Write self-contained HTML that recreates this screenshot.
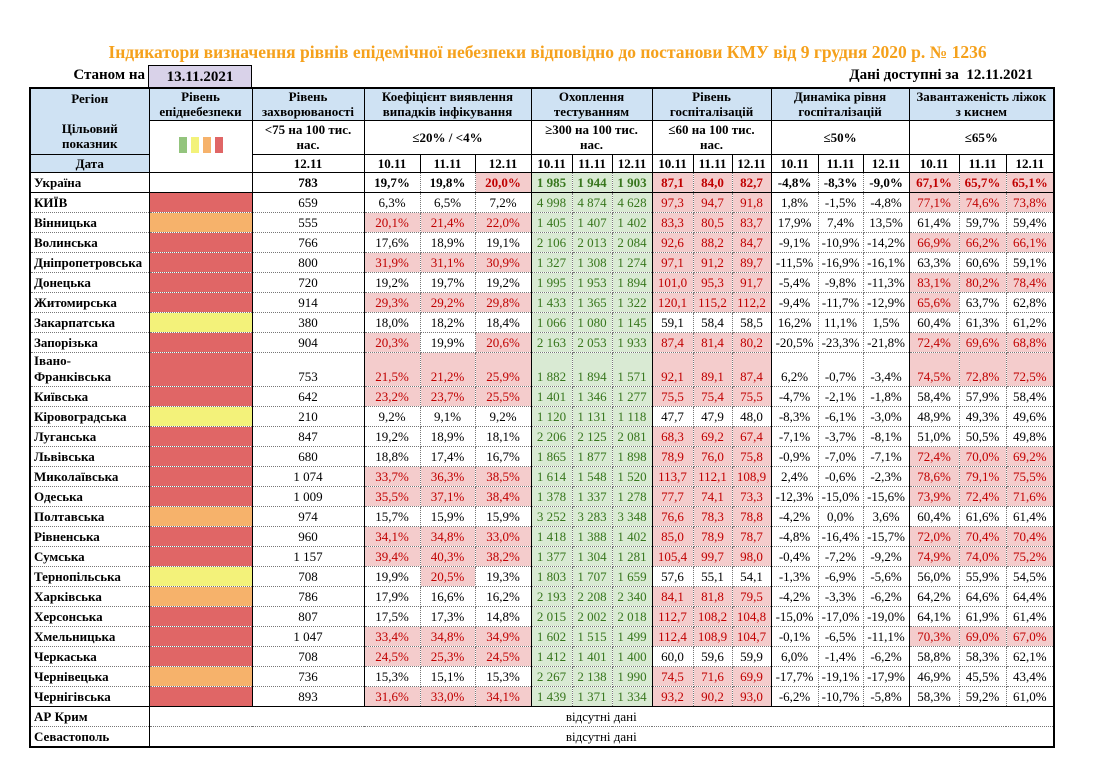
<!DOCTYPE html>
<html><head><meta charset="utf-8">
<style>
*{margin:0;padding:0;box-sizing:border-box}
body{width:1095px;height:765px;background:#fff;font-family:"Liberation Serif","DejaVu Serif",serif;position:relative;overflow:hidden;color:#000}
.title{position:absolute;left:0;width:1095px;top:42px;text-align:center;color:#f5a11c;font-weight:bold;font-size:17.5px}
.st{position:absolute;left:40px;width:105px;top:67px;text-align:right;font-weight:bold;font-size:15px}
.db{position:absolute;left:148px;top:65px;width:104px;height:23px;background:#d9d2e9;border:1px solid #000;border-bottom:none;text-align:center;font-weight:bold;font-size:15px;line-height:22px}
.av{position:absolute;right:62px;top:67px;font-weight:bold;font-size:15px;white-space:pre}
table{position:absolute;left:29px;top:87px;border-collapse:collapse;table-layout:fixed;width:1024px;border:2px solid #000}
td{font-size:13px;text-align:center;vertical-align:bottom;border:1px dotted #777;white-space:nowrap;overflow:hidden;padding:0 0 1px 0;line-height:16px}
tr.h td{border:1px solid #000;font-weight:bold;font-size:13px;vertical-align:middle;line-height:15px}
.bl{background:#cfe2f3}
tr.r td:nth-child(2),tr.r td:nth-child(3),tr.r td:nth-child(4),tr.r td:nth-child(7),tr.r td:nth-child(10),tr.r td:nth-child(13),tr.r td:nth-child(16){border-left:1px solid #000}
tr.r td:first-child{text-align:left;font-weight:bold;padding-left:3px}
tr.r{height:20px}
tr.u td{font-weight:bold;border-bottom:1px solid #000}
tr.last td{border-bottom:1px solid #000}
.p{background:#f4cccc;color:#c00000}
.g{background:#d9ead3;color:#38761d}
.R{background:#e06666}.O{background:#f6b26b}.Y{background:#f3f27a}
.sq{display:inline-block;width:8px;height:16px;margin:0 2px}
</style></head><body>
<div class="title">Індикатори визначення рівнів епідемічної небезпеки відповідно до постанови КМУ від 9 грудня 2020 р. № 1236</div>
<div class="st">Станом на</div>
<div class="db">13.11.2021</div>
<div class="av">Дані доступні за  12.11.2021</div>
<table>
<colgroup><col style="width:119px"><col style="width:103px"><col style="width:112px"><col style="width:56px"><col style="width:55px"><col style="width:56px"><col style="width:41px"><col style="width:40px"><col style="width:40px"><col style="width:41px"><col style="width:39px"><col style="width:39px"><col style="width:47px"><col style="width:45px"><col style="width:46px"><col style="width:50px"><col style="width:47px"><col style="width:48px"></colgroup>
<tr class="h" style="height:32px"><td class="bl" rowspan="2" style="border-bottom:1px solid #000">Регіон<br><br>Цільовий<br>показник</td><td class="bl">Рівень<br>епіднебезпеки</td><td class="bl">Рівень<br>захворюваності</td><td class="bl" colspan="3">Коефіцієнт виявлення<br>випадків інфікування</td><td class="bl" colspan="3">Охоплення<br>тестуванням</td><td class="bl" colspan="3">Рівень<br>госпіталізацій</td><td class="bl" colspan="3">Динаміка рівня<br>госпіталізацій</td><td class="bl" colspan="3">Завантаженість ліжок<br>з киснем</td></tr>
<tr class="h" style="height:34px"><td rowspan="2"><span class="sq" style="background:#93c47d"></span><span class="sq" style="background:#f3f27a"></span><span class="sq" style="background:#f6b26b"></span><span class="sq" style="background:#e06666"></span></td><td>&lt;75 на 100 тис.<br>нас.</td><td colspan="3">≤20% / &lt;4%</td><td colspan="3">≥300 на 100 тис.<br>нас.</td><td colspan="3">≤60 на 100 тис.<br>нас.</td><td colspan="3">≤50%</td><td colspan="3">≤65%</td></tr>
<tr class="h" style="height:18px"><td class="bl">Дата</td><td>12.11</td><td>10.11</td><td>11.11</td><td>12.11</td><td>10.11</td><td>11.11</td><td>12.11</td><td>10.11</td><td>11.11</td><td>12.11</td><td>10.11</td><td>11.11</td><td>12.11</td><td>10.11</td><td>11.11</td><td>12.11</td></tr>
<tr class="r u"><td>Україна</td><td></td><td>783</td><td>19,7%</td><td>19,8%</td><td class="p">20,0%</td><td class="g">1 985</td><td class="g">1 944</td><td class="g">1 903</td><td class="p">87,1</td><td class="p">84,0</td><td class="p">82,7</td><td>-4,8%</td><td>-8,3%</td><td>-9,0%</td><td class="p">67,1%</td><td class="p">65,7%</td><td class="p">65,1%</td></tr>
<tr class="r"><td>КИЇВ</td><td class="R"></td><td>659</td><td>6,3%</td><td>6,5%</td><td>7,2%</td><td class="g">4 998</td><td class="g">4 874</td><td class="g">4 628</td><td class="p">97,3</td><td class="p">94,7</td><td class="p">91,8</td><td>1,8%</td><td>-1,5%</td><td>-4,8%</td><td class="p">77,1%</td><td class="p">74,6%</td><td class="p">73,8%</td></tr>
<tr class="r"><td>Вінницька</td><td class="O"></td><td>555</td><td class="p">20,1%</td><td class="p">21,4%</td><td class="p">22,0%</td><td class="g">1 405</td><td class="g">1 407</td><td class="g">1 402</td><td class="p">83,3</td><td class="p">80,5</td><td class="p">83,7</td><td>17,9%</td><td>7,4%</td><td>13,5%</td><td>61,4%</td><td>59,7%</td><td>59,4%</td></tr>
<tr class="r"><td>Волинська</td><td class="R"></td><td>766</td><td>17,6%</td><td>18,9%</td><td>19,1%</td><td class="g">2 106</td><td class="g">2 013</td><td class="g">2 084</td><td class="p">92,6</td><td class="p">88,2</td><td class="p">84,7</td><td>-9,1%</td><td>-10,9%</td><td>-14,2%</td><td class="p">66,9%</td><td class="p">66,2%</td><td class="p">66,1%</td></tr>
<tr class="r"><td>Дніпропетровська</td><td class="R"></td><td>800</td><td class="p">31,9%</td><td class="p">31,1%</td><td class="p">30,9%</td><td class="g">1 327</td><td class="g">1 308</td><td class="g">1 274</td><td class="p">97,1</td><td class="p">91,2</td><td class="p">89,7</td><td>-11,5%</td><td>-16,9%</td><td>-16,1%</td><td>63,3%</td><td>60,6%</td><td>59,1%</td></tr>
<tr class="r"><td>Донецька</td><td class="R"></td><td>720</td><td>19,2%</td><td>19,7%</td><td>19,2%</td><td class="g">1 995</td><td class="g">1 953</td><td class="g">1 894</td><td class="p">101,0</td><td class="p">95,3</td><td class="p">91,7</td><td>-5,4%</td><td>-9,8%</td><td>-11,3%</td><td class="p">83,1%</td><td class="p">80,2%</td><td class="p">78,4%</td></tr>
<tr class="r"><td>Житомирська</td><td class="R"></td><td>914</td><td class="p">29,3%</td><td class="p">29,2%</td><td class="p">29,8%</td><td class="g">1 433</td><td class="g">1 365</td><td class="g">1 322</td><td class="p">120,1</td><td class="p">115,2</td><td class="p">112,2</td><td>-9,4%</td><td>-11,7%</td><td>-12,9%</td><td class="p">65,6%</td><td>63,7%</td><td>62,8%</td></tr>
<tr class="r"><td>Закарпатська</td><td class="Y"></td><td>380</td><td>18,0%</td><td>18,2%</td><td>18,4%</td><td class="g">1 066</td><td class="g">1 080</td><td class="g">1 145</td><td>59,1</td><td>58,4</td><td>58,5</td><td>16,2%</td><td>11,1%</td><td>1,5%</td><td>60,4%</td><td>61,3%</td><td>61,2%</td></tr>
<tr class="r"><td>Запорізька</td><td class="R"></td><td>904</td><td class="p">20,3%</td><td>19,9%</td><td class="p">20,6%</td><td class="g">2 163</td><td class="g">2 053</td><td class="g">1 933</td><td class="p">87,4</td><td class="p">81,4</td><td class="p">80,2</td><td>-20,5%</td><td>-23,3%</td><td>-21,8%</td><td class="p">72,4%</td><td class="p">69,6%</td><td class="p">68,8%</td></tr>
<tr class="r" style="height:31px"><td>Івано-<br>Франківська</td><td class="R"></td><td>753</td><td class="p">21,5%</td><td class="p">21,2%</td><td class="p">25,9%</td><td class="g">1 882</td><td class="g">1 894</td><td class="g">1 571</td><td class="p">92,1</td><td class="p">89,1</td><td class="p">87,4</td><td>6,2%</td><td>-0,7%</td><td>-3,4%</td><td class="p">74,5%</td><td class="p">72,8%</td><td class="p">72,5%</td></tr>
<tr class="r"><td>Київська</td><td class="R"></td><td>642</td><td class="p">23,2%</td><td class="p">23,7%</td><td class="p">25,5%</td><td class="g">1 401</td><td class="g">1 346</td><td class="g">1 277</td><td class="p">75,5</td><td class="p">75,4</td><td class="p">75,5</td><td>-4,7%</td><td>-2,1%</td><td>-1,8%</td><td>58,4%</td><td>57,9%</td><td>58,4%</td></tr>
<tr class="r"><td>Кіровоградська</td><td class="Y"></td><td>210</td><td>9,2%</td><td>9,1%</td><td>9,2%</td><td class="g">1 120</td><td class="g">1 131</td><td class="g">1 118</td><td>47,7</td><td>47,9</td><td>48,0</td><td>-8,3%</td><td>-6,1%</td><td>-3,0%</td><td>48,9%</td><td>49,3%</td><td>49,6%</td></tr>
<tr class="r"><td>Луганська</td><td class="R"></td><td>847</td><td>19,2%</td><td>18,9%</td><td>18,1%</td><td class="g">2 206</td><td class="g">2 125</td><td class="g">2 081</td><td class="p">68,3</td><td class="p">69,2</td><td class="p">67,4</td><td>-7,1%</td><td>-3,7%</td><td>-8,1%</td><td>51,0%</td><td>50,5%</td><td>49,8%</td></tr>
<tr class="r"><td>Львівська</td><td class="R"></td><td>680</td><td>18,8%</td><td>17,4%</td><td>16,7%</td><td class="g">1 865</td><td class="g">1 877</td><td class="g">1 898</td><td class="p">78,9</td><td class="p">76,0</td><td class="p">75,8</td><td>-0,9%</td><td>-7,0%</td><td>-7,1%</td><td class="p">72,4%</td><td class="p">70,0%</td><td class="p">69,2%</td></tr>
<tr class="r"><td>Миколаївська</td><td class="R"></td><td>1 074</td><td class="p">33,7%</td><td class="p">36,3%</td><td class="p">38,5%</td><td class="g">1 614</td><td class="g">1 548</td><td class="g">1 520</td><td class="p">113,7</td><td class="p">112,1</td><td class="p">108,9</td><td>2,4%</td><td>-0,6%</td><td>-2,3%</td><td class="p">78,6%</td><td class="p">79,1%</td><td class="p">75,5%</td></tr>
<tr class="r"><td>Одеська</td><td class="R"></td><td>1 009</td><td class="p">35,5%</td><td class="p">37,1%</td><td class="p">38,4%</td><td class="g">1 378</td><td class="g">1 337</td><td class="g">1 278</td><td class="p">77,7</td><td class="p">74,1</td><td class="p">73,3</td><td>-12,3%</td><td>-15,0%</td><td>-15,6%</td><td class="p">73,9%</td><td class="p">72,4%</td><td class="p">71,6%</td></tr>
<tr class="r"><td>Полтавська</td><td class="O"></td><td>974</td><td>15,7%</td><td>15,9%</td><td>15,9%</td><td class="g">3 252</td><td class="g">3 283</td><td class="g">3 348</td><td class="p">76,6</td><td class="p">78,3</td><td class="p">78,8</td><td>-4,2%</td><td>0,0%</td><td>3,6%</td><td>60,4%</td><td>61,6%</td><td>61,4%</td></tr>
<tr class="r"><td>Рівненська</td><td class="R"></td><td>960</td><td class="p">34,1%</td><td class="p">34,8%</td><td class="p">33,0%</td><td class="g">1 418</td><td class="g">1 388</td><td class="g">1 402</td><td class="p">85,0</td><td class="p">78,9</td><td class="p">78,7</td><td>-4,8%</td><td>-16,4%</td><td>-15,7%</td><td class="p">72,0%</td><td class="p">70,4%</td><td class="p">70,4%</td></tr>
<tr class="r"><td>Сумська</td><td class="R"></td><td>1 157</td><td class="p">39,4%</td><td class="p">40,3%</td><td class="p">38,2%</td><td class="g">1 377</td><td class="g">1 304</td><td class="g">1 281</td><td class="p">105,4</td><td class="p">99,7</td><td class="p">98,0</td><td>-0,4%</td><td>-7,2%</td><td>-9,2%</td><td class="p">74,9%</td><td class="p">74,0%</td><td class="p">75,2%</td></tr>
<tr class="r"><td>Тернопільська</td><td class="Y"></td><td>708</td><td>19,9%</td><td class="p">20,5%</td><td>19,3%</td><td class="g">1 803</td><td class="g">1 707</td><td class="g">1 659</td><td>57,6</td><td>55,1</td><td>54,1</td><td>-1,3%</td><td>-6,9%</td><td>-5,6%</td><td>56,0%</td><td>55,9%</td><td>54,5%</td></tr>
<tr class="r"><td>Харківська</td><td class="O"></td><td>786</td><td>17,9%</td><td>16,6%</td><td>16,2%</td><td class="g">2 193</td><td class="g">2 208</td><td class="g">2 340</td><td class="p">84,1</td><td class="p">81,8</td><td class="p">79,5</td><td>-4,2%</td><td>-3,3%</td><td>-6,2%</td><td>64,2%</td><td>64,6%</td><td>64,4%</td></tr>
<tr class="r"><td>Херсонська</td><td class="R"></td><td>807</td><td>17,5%</td><td>17,3%</td><td>14,8%</td><td class="g">2 015</td><td class="g">2 002</td><td class="g">2 018</td><td class="p">112,7</td><td class="p">108,2</td><td class="p">104,8</td><td>-15,0%</td><td>-17,0%</td><td>-19,0%</td><td>64,1%</td><td>61,9%</td><td>61,4%</td></tr>
<tr class="r"><td>Хмельницька</td><td class="R"></td><td>1 047</td><td class="p">33,4%</td><td class="p">34,8%</td><td class="p">34,9%</td><td class="g">1 602</td><td class="g">1 515</td><td class="g">1 499</td><td class="p">112,4</td><td class="p">108,9</td><td class="p">104,7</td><td>-0,1%</td><td>-6,5%</td><td>-11,1%</td><td class="p">70,3%</td><td class="p">69,0%</td><td class="p">67,0%</td></tr>
<tr class="r"><td>Черкаська</td><td class="R"></td><td>708</td><td class="p">24,5%</td><td class="p">25,3%</td><td class="p">24,5%</td><td class="g">1 412</td><td class="g">1 401</td><td class="g">1 400</td><td>60,0</td><td>59,6</td><td>59,9</td><td>6,0%</td><td>-1,4%</td><td>-6,2%</td><td>58,8%</td><td>58,3%</td><td>62,1%</td></tr>
<tr class="r"><td>Чернівецька</td><td class="O"></td><td>736</td><td>15,3%</td><td>15,1%</td><td>15,3%</td><td class="g">2 267</td><td class="g">2 138</td><td class="g">1 990</td><td class="p">74,5</td><td class="p">71,6</td><td class="p">69,9</td><td>-17,7%</td><td>-19,1%</td><td>-17,9%</td><td>46,9%</td><td>45,5%</td><td>43,4%</td></tr>
<tr class="r last"><td>Чернігівська</td><td class="R"></td><td>893</td><td class="p">31,6%</td><td class="p">33,0%</td><td class="p">34,1%</td><td class="g">1 439</td><td class="g">1 371</td><td class="g">1 334</td><td class="p">93,2</td><td class="p">90,2</td><td class="p">93,0</td><td>-6,2%</td><td>-10,7%</td><td>-5,8%</td><td>58,3%</td><td>59,2%</td><td>61,0%</td></tr>
<tr class="r"><td>АР Крим</td><td colspan="17">відсутні дані</td></tr>
<tr class="r"><td>Севастополь</td><td colspan="17">відсутні дані</td></tr>
</table>
</body></html>
